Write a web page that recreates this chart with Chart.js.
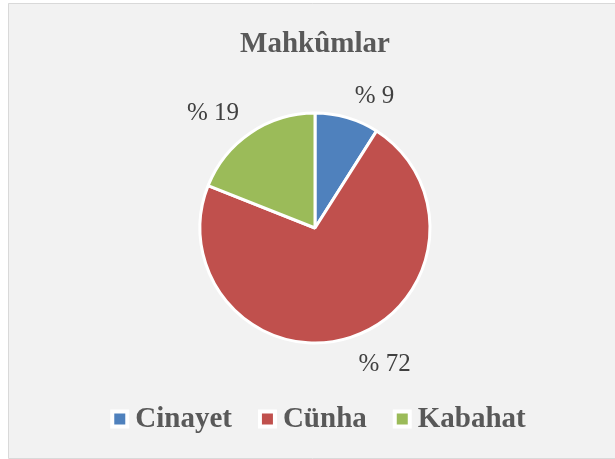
<!DOCTYPE html>
<html>
<head>
<meta charset="utf-8">
<script src="https://cdn.jsdelivr.net/npm/chart.js@4"></script>
<style>
  html, body { margin: 0; padding: 0; background: #ffffff; }
  #c { display: block; }
</style>
</head>
<body>
<canvas id="c" width="615" height="459"></canvas>
<script>
const titleText = 'Mahkûmlar';
const categories = ['Cinayet', 'Cünha', 'Kabahat'];
const values = [9, 72, 19];
const sliceColors = ['#4f81bd', '#c0504d', '#9bbb59'];

const SERIF = '"Liberation Serif", "Times New Roman", serif';

const backgroundPlugin = {
  id: 'bgBox',
  beforeDraw(chart) {
    const ctx = chart.ctx;
    ctx.save();
    ctx.fillStyle = '#ffffff';
    ctx.fillRect(0, 0, chart.width, chart.height);
    ctx.fillStyle = '#f2f2f2';
    ctx.fillRect(8, 3, chart.width, 455);
    ctx.strokeStyle = '#d9d9d9';
    ctx.lineWidth = 1;
    ctx.beginPath();
    ctx.moveTo(chart.width + 2, 3.5);
    ctx.lineTo(8.5, 3.5);
    ctx.lineTo(8.5, 458.5);
    ctx.lineTo(chart.width + 2, 458.5);
    ctx.stroke();
    ctx.restore();
  }
};

const dataLabelPlugin = {
  id: 'outsideLabels',
  afterDatasetsDraw(chart) {
    const ctx = chart.ctx;
    const meta = chart.getDatasetMeta(0);
    ctx.save();
    ctx.font = '25px ' + SERIF;
    ctx.fillStyle = '#404040';
    ctx.textAlign = 'center';
    ctx.textBaseline = 'middle';
    meta.data.forEach((arc, i) => {
      const p = arc.getProps(['x', 'y', 'startAngle', 'endAngle', 'outerRadius'], true);
      const mid = (p.startAngle + p.endAngle) / 2;
      const ux = Math.cos(mid), uy = Math.sin(mid);
      const d = p.outerRadius + 13;
      const px = p.x + d * ux, py = p.y + d * uy;
      const txt = '% ' + chart.data.datasets[0].data[i];
      const w = ctx.measureText(txt).width + 8;
      const h = 24;
      const cx = px + Math.sign(ux) * w / 2;
      const cy = py + Math.sign(uy) * h / 2 + 3;
      ctx.fillText(txt, cx, cy);
    });
    ctx.restore();
  }
};

const legendPlugin = {
  id: 'bottomLegend',
  afterDraw(chart) {
    const ctx = chart.ctx;
    const ds = chart.data.datasets[0];
    const labels = chart.data.labels;
    ctx.save();
    ctx.font = 'bold 29px ' + SERIF;
    const boxOuter = 19, boxInner = 11, gapText = 6, gapItem = 26;
    const widths = labels.map(l => ctx.measureText(l).width);
    let total = 0;
    widths.forEach((w, i) => { total += boxOuter + gapText + w + (i < widths.length - 1 ? gapItem : 0); });
    const centerX = (chart.chartArea.left + chart.chartArea.right) / 2 + 3;
    const cy = 419;
    let x = centerX - total / 2;
    ctx.textBaseline = 'middle';
    ctx.textAlign = 'left';
    labels.forEach((l, i) => {
      ctx.fillStyle = '#ffffff';
      ctx.fillRect(x, cy - boxOuter / 2, boxOuter, boxOuter);
      ctx.fillStyle = ds.backgroundColor[i];
      ctx.fillRect(x + (boxOuter - boxInner) / 2, cy - boxInner / 2, boxInner, boxInner);
      ctx.fillStyle = '#595959';
      ctx.fillText(l, x + boxOuter + gapText, cy + 1);
      x += boxOuter + gapText + widths[i] + gapItem;
    });
    ctx.restore();
  }
};

new Chart(document.getElementById('c'), {
  type: 'pie',
  data: {
    labels: categories,
    datasets: [{
      data: values,
      backgroundColor: sliceColors,
      borderColor: '#ffffff',
      borderWidth: 3
    }]
  },
  options: {
    responsive: false,
    animation: false,
    events: [],
    layout: { padding: { left: 15, right: 0, top: 0, bottom: 114.5 } },
    plugins: {
      legend: { display: false },
      tooltip: { enabled: false },
      title: {
        display: true,
        text: titleText,
        color: '#595959',
        font: { family: SERIF, size: 29, weight: 'bold', lineHeight: 1.2 },
        padding: { top: 27, bottom: 49.7 }
      }
    }
  },
  plugins: [backgroundPlugin, dataLabelPlugin, legendPlugin]
});
</script>
</body>
</html>
